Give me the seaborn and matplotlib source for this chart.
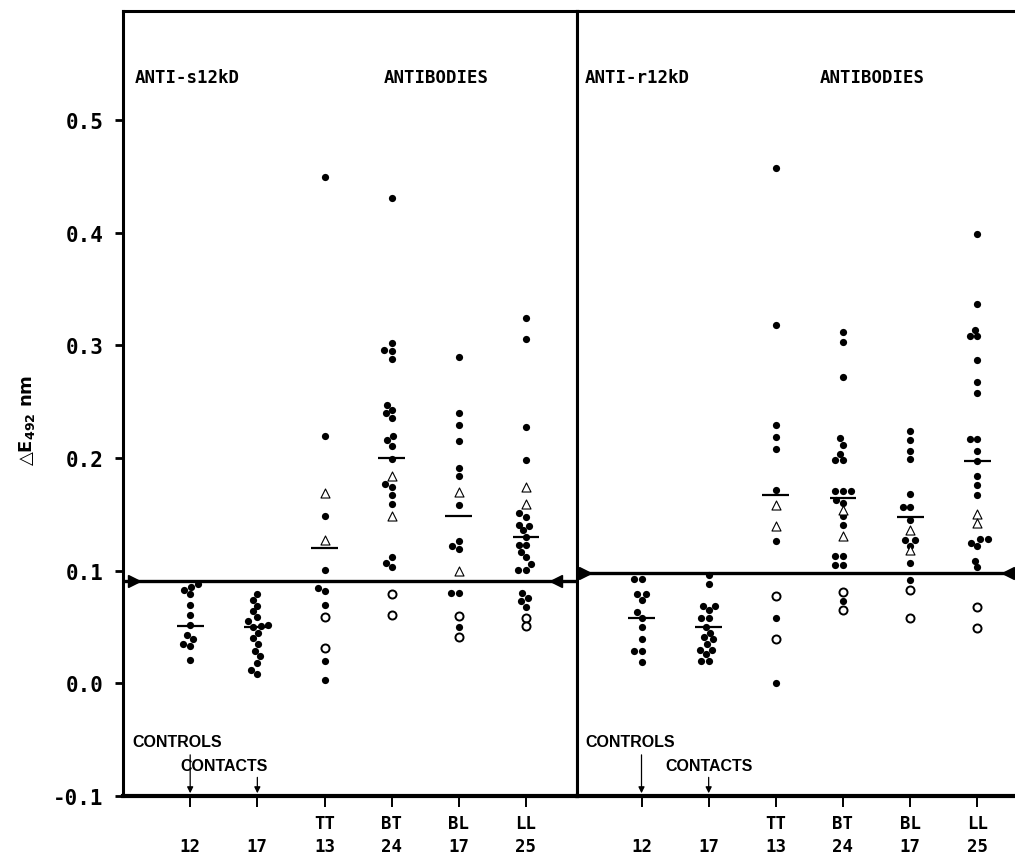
import numpy as np
import pandas as pd
import matplotlib
matplotlib.use("Agg")
import matplotlib.pyplot as plt
import seaborn as sns

# column keys and tick labels (same for both panels)
groups = ["C12", "C17", "TT", "BT", "BL", "LL"]
tick_labels = ["\n12", "\n17", "TT\n13", "BT\n24", "BL\n17", "LL\n25"]

# ---- left panel: anti-s12kD ----
s_c12_dots = [0.088, 0.086, 0.083, 0.079, 0.070, 0.061, 0.052, 0.043, 0.039, 0.035, 0.033, 0.021]
s_c17_dots = [0.079, 0.074, 0.069, 0.064, 0.059, 0.055, 0.052, 0.051, 0.050, 0.045, 0.040,
              0.035, 0.029, 0.024, 0.018, 0.012, 0.008]
s_tt_dots = [0.450, 0.220, 0.149, 0.101, 0.085, 0.082, 0.070, 0.020, 0.003]
s_tt_tri = [0.169, 0.127]
s_tt_open = [0.059, 0.031]
s_bt_dots = [0.431, 0.302, 0.296, 0.295, 0.288, 0.247, 0.243, 0.240, 0.236, 0.220, 0.216,
             0.211, 0.199, 0.177, 0.174, 0.167, 0.159, 0.112, 0.107, 0.103]
s_bt_tri = [0.184, 0.149]
s_bt_open = [0.079, 0.061]
s_bl_dots = [0.290, 0.240, 0.229, 0.215, 0.191, 0.184, 0.158, 0.126, 0.122, 0.119, 0.080,
             0.080, 0.050]
s_bl_tri = [0.170, 0.100]
s_bl_open = [0.060, 0.041]
s_ll_dots = [0.324, 0.306, 0.228, 0.198, 0.151, 0.148, 0.141, 0.140, 0.136, 0.130, 0.123,
             0.123, 0.117, 0.112, 0.106, 0.101, 0.101, 0.080, 0.076, 0.073, 0.068]
s_ll_tri = [0.174, 0.159]
s_ll_open = [0.058, 0.051]
s_means = [0.051, 0.050, 0.120, 0.200, 0.149, 0.130]
s_cutoff = 0.091

# ---- right panel: anti-r12kD ----
r_c12_dots = [0.093, 0.093, 0.079, 0.079, 0.074, 0.063, 0.058, 0.050, 0.039, 0.029, 0.029, 0.019]
r_c17_dots = [0.096, 0.088, 0.069, 0.069, 0.065, 0.058, 0.058, 0.050, 0.045, 0.041, 0.039,
              0.035, 0.030, 0.030, 0.026, 0.020, 0.020]
r_tt_dots = [0.458, 0.318, 0.229, 0.219, 0.208, 0.172, 0.126, 0.058, 0.000]
r_tt_tri = [0.158, 0.140]
r_tt_open = [0.078, 0.039]
r_bt_dots = [0.312, 0.303, 0.272, 0.218, 0.212, 0.204, 0.198, 0.198, 0.171, 0.171, 0.163,
             0.160, 0.149, 0.141, 0.113, 0.113, 0.105, 0.105, 0.073, 0.171]
r_bt_tri = [0.154, 0.131]
r_bt_open = [0.081, 0.065]
r_bl_dots = [0.224, 0.216, 0.206, 0.199, 0.168, 0.157, 0.157, 0.145, 0.127, 0.127, 0.122,
             0.107, 0.092]
r_bl_tri = [0.136, 0.118]
r_bl_open = [0.083, 0.058]
r_ll_dots = [0.399, 0.337, 0.314, 0.308, 0.308, 0.287, 0.268, 0.258, 0.217, 0.217, 0.206,
             0.197, 0.184, 0.176, 0.167, 0.128, 0.128, 0.125, 0.122, 0.109, 0.103]
r_ll_tri = [0.150, 0.142]
r_ll_open = [0.068, 0.049]
r_means = [0.058, 0.050, 0.167, 0.165, 0.148, 0.197]
r_cutoff = 0.098


def long_df(dots, tri, opn):
    rows = []
    for g, vals in zip(groups, dots):
        rows += [(g, v, "dot") for v in vals]
    for g, vals in zip(groups[2:], tri):
        rows += [(g, v, "tri") for v in vals]
    for g, vals in zip(groups[2:], opn):
        rows += [(g, v, "open") for v in vals]
    return pd.DataFrame(rows, columns=["group", "value", "kind"])


df_s = long_df([s_c12_dots, s_c17_dots, s_tt_dots, s_bt_dots, s_bl_dots, s_ll_dots],
               [s_tt_tri, s_bt_tri, s_bl_tri, s_ll_tri],
               [s_tt_open, s_bt_open, s_bl_open, s_ll_open])
df_r = long_df([r_c12_dots, r_c17_dots, r_tt_dots, r_bt_dots, r_bl_dots, r_ll_dots],
               [r_tt_tri, r_bt_tri, r_bl_tri, r_ll_tri],
               [r_tt_open, r_bt_open, r_bl_open, r_ll_open])

sns.set_style("ticks", {"axes.edgecolor": "black", "text.color": "black",
                        "xtick.color": "black", "ytick.color": "black",
                        "axes.labelcolor": "black"})
plt.rcParams["font.family"] = ["Liberation Sans", "DejaVu Sans"]
plt.rcParams["axes.linewidth"] = 2.2

MONO = "DejaVu Sans Mono"

fig = plt.figure(figsize=(10.15, 8.62), dpi=100)
axL = fig.add_axes([0.1212, 0.0754, 0.4473, 0.9107])
axR = fig.add_axes([0.5685, 0.0754, 0.4473, 0.9107])


def draw_panel(ax, df, means, cutoff, xlim, header, head_x, note_x, arrow_x):
    dots = df[df.kind == "dot"]
    sns.swarmplot(data=dots, x="group", y="value", order=groups, color="black",
                  size=5.2, ax=ax, warn_thresh=1)
    tri = df[df.kind == "tri"]
    sns.stripplot(data=tri, x="group", y="value", order=groups, jitter=False,
                  marker="^", color="white", edgecolor="black", linewidth=0.8,
                  size=6.5, ax=ax)
    opn = df[df.kind == "open"]
    sns.stripplot(data=opn, x="group", y="value", order=groups, jitter=False,
                  marker="o", color="white", edgecolor="black", linewidth=1.4,
                  size=5.8, ax=ax)
    xs = np.arange(len(groups))
    ax.hlines(means, xs - 0.2, xs + 0.2, color="black", lw=1.6, zorder=5)

    ax.set_xlim(*xlim)
    ax.set_ylim(-0.1, 0.597)
    # cut-off line with arrow heads at both ends
    ax.axhline(cutoff, color="black", lw=2.4, zorder=1)
    ax.plot([arrow_x[0]], [cutoff], marker=">", color="black", ms=9, clip_on=False)
    ax.plot([arrow_x[1]], [cutoff], marker="<", color="black", ms=9, clip_on=False)

    ax.text(head_x[0], 0.538, header, family=MONO, weight="bold", fontsize=12.5,
            va="center", ha="left")
    ax.text(head_x[1], 0.538, "ANTIBODIES", family=MONO, weight="bold", fontsize=12.5,
            va="center", ha="left")
    ax.text(note_x[0], -0.052, "CONTROLS", weight="bold", fontsize=11.5, va="center")
    ax.text(note_x[1], -0.073, "CONTACTS", weight="bold", fontsize=11.5, va="center")
    ax.annotate("", xy=(0, -0.1), xytext=(0, -0.061),
                arrowprops=dict(arrowstyle="-|>", lw=0.9, color="black", mutation_scale=9))
    ax.annotate("", xy=(1, -0.1), xytext=(1, -0.081),
                arrowprops=dict(arrowstyle="-|>", lw=0.9, color="black", mutation_scale=9))

    ax.set_xticks(xs)
    ax.set_xticklabels(tick_labels, family=MONO, weight="bold", fontsize=12.5,
                       linespacing=1.35)
    ax.tick_params(axis="x", direction="out", length=8, width=1.4, pad=5)
    ax.set_xlabel("")
    for s in ax.spines.values():
        s.set_linewidth(2.2)
    ax.spines["bottom"].set_linewidth(3)


draw_panel(axL, df_s, s_means, s_cutoff, (-1.0, 5.76), "ANTI-s12kD", (-0.82, 2.88),
           (-0.86, -0.15), (-0.84, 5.45))
draw_panel(axR, df_r, r_means, r_cutoff, (-0.96, 5.8), "ANTI-r12kD", (-0.84, 2.65),
           (-0.84, 0.35), (-0.84, 5.45))

yt = [-0.1, 0.0, 0.1, 0.2, 0.3, 0.4, 0.5]
axL.set_yticks(yt)
axL.set_yticklabels([f"{v:.1f}" for v in yt], family=MONO, weight="bold", fontsize=15)
axL.tick_params(axis="y", direction="out", length=6, width=2, pad=8)
axL.set_ylabel("\u25b3E$_{\\mathbf{492}}$ nm", family="DejaVu Sans", fontsize=13,
               weight="bold")
axL.yaxis.set_label_coords(-0.19, 0.48)

axR.set_yticks([])
axR.set_ylabel("")

fig.savefig("out.png", dpi=100)
